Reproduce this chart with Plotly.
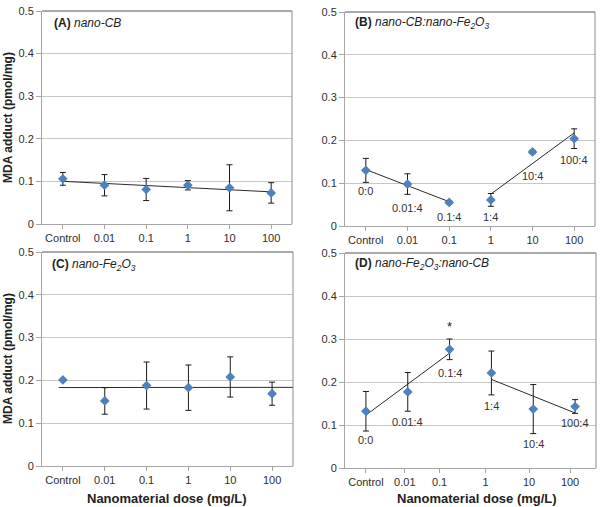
import numpy as np
import plotly.graph_objects as go

# ---------------- data ----------------
DOSES = ["Control", "0.01", "0.1", "1", "10", "100"]
RATIOS = ["0:0", "0.01:4", "0.1:4", "1:4", "10:4", "100:4"]

A_MEAN = [0.106, 0.091, 0.081, 0.091, 0.085, 0.073]
A_ERR = [0.015, 0.025, 0.026, 0.011, 0.054, 0.024]

B_MEAN = [0.130, 0.098, 0.055, 0.061, 0.173, 0.204]
B_ERR = [0.028, 0.024, 0.004, 0.015, 0.004, 0.023]

C_MEAN = [0.201, 0.152, 0.188, 0.183, 0.208, 0.169]
C_ERR = [0.002, 0.031, 0.055, 0.053, 0.047, 0.027]

D_MEAN = [0.132, 0.177, 0.276, 0.221, 0.137, 0.143]
D_ERR = [0.046, 0.045, 0.024, 0.051, 0.057, 0.016]
D_SIG = ["", "", "*", "", "", ""]

Y_TICKS = [0, 0.1, 0.2, 0.3, 0.4, 0.5]

# ---------------- layout helpers ----------------
W, H = 600, 507
FONT = "Liberation Sans, Arial, sans-serif"
BLUE = "#4f81bd"
GRID = "#c6c6c6"
AXIS = "#a6a6a6"
FRAME = "#555555"


def fx(p):
    return p / W


def fy(p):
    return 1 - p / H


# panel pixel boxes: (left, right, top, bottom)
BOXES = {
    1: (42, 292, 11, 224),
    2: (345, 595, 12, 226),
    3: (42, 293, 252, 466),
    4: (345, 596, 253, 468),
}

fig = go.Figure()
xs = list(range(len(DOSES)))


def add_panel(k, means, errs):
    sfx = "" if k == 1 else str(k)
    fig.add_trace(go.Scatter(
        x=xs, y=means, mode="markers",
        marker=dict(symbol="diamond", size=7.5, color=BLUE),
        error_y=dict(type="data", array=errs, visible=True,
                     color="#1a1a1a", thickness=1, width=3),
        xaxis="x" + sfx, yaxis="y" + sfx, showlegend=False,
        hoverinfo="x+y"))


def add_trend(k, means, idx, x0=None, x1=None):
    sfx = "" if k == 1 else str(k)
    xx = np.array(idx, dtype=float)
    yy = np.array([means[i] for i in idx])
    m, b = np.polyfit(xx, yy, 1)
    lo = xx.min() if x0 is None else x0
    hi = xx.max() if x1 is None else x1
    fig.add_trace(go.Scatter(
        x=[lo, hi], y=[m * lo + b, m * hi + b], mode="lines",
        line=dict(color="#2b2b2b", width=1),
        xaxis="x" + sfx, yaxis="y" + sfx, showlegend=False,
        hoverinfo="skip"))


add_trend(1, A_MEAN, [0, 1, 2, 3, 4, 5])
add_trend(2, B_MEAN, [0, 1, 2])
add_trend(2, B_MEAN, [3, 4, 5])
add_trend(3, C_MEAN, [0, 1, 2, 3, 4, 5], x0=-0.1, x1=5.5)
add_trend(4, D_MEAN, [0, 1, 2])
add_trend(4, D_MEAN, [3, 4, 5])

add_panel(1, A_MEAN, A_ERR)
add_panel(2, B_MEAN, B_ERR)
add_panel(3, C_MEAN, C_ERR)
add_panel(4, D_MEAN, D_ERR)

D_TICK_SHIFT = [0, -0.07, -0.24, -0.14, -0.1, -0.12]

layout = dict(
    template="none",
    width=W, height=H, autosize=False,
    margin=dict(l=0, r=0, t=0, b=0, pad=0, autoexpand=False),
    paper_bgcolor="white", plot_bgcolor="white",
    font=dict(family=FONT, size=11, color="#333333"),
    showlegend=False,
)

shapes = []
for k, (l, r, t, b) in BOXES.items():
    sfx = "" if k == 1 else str(k)
    tv = xs if k != 4 else [x + s for x, s in zip(xs, D_TICK_SHIFT)]
    layout["xaxis" + sfx] = dict(
        domain=[fx(l), fx(r)], anchor="y" + sfx, automargin=False,
        range=[-0.5, 5.5], tickmode="array", tickvals=tv, ticktext=DOSES,
        showgrid=False, zeroline=False, showline=True, linecolor=AXIS,
        linewidth=1, ticks="outside", ticklen=4, tickcolor=AXIS,
        tickfont=dict(size=11, color="#2e2e2e"), fixedrange=True)
    layout["yaxis" + sfx] = dict(
        domain=[fy(b), fy(t)], anchor="x" + sfx, automargin=False,
        range=[0, 0.5], tickmode="array", tickvals=Y_TICKS,
        ticktext=[("%g" % v) for v in Y_TICKS],
        showgrid=True, gridcolor=GRID, gridwidth=1, zeroline=False,
        showline=True, linecolor=AXIS, linewidth=1,
        ticks="outside", ticklen=5, tickcolor=AXIS,
        tickfont=dict(size=11, color="#2e2e2e"), fixedrange=True)
    # top and right frame of plot area
    shapes.append(dict(type="line", xref="paper", yref="paper",
                       x0=fx(l), x1=fx(r), y0=fy(t), y1=fy(t),
                       line=dict(color=FRAME, width=1)))
    shapes.append(dict(type="line", xref="paper", yref="paper",
                       x0=fx(r), x1=fx(r), y0=fy(t), y1=fy(b),
                       line=dict(color="#8c8c8c", width=1)))

annotations = []
titles = [
    (1, 52, 23, "<b>(A)</b> <i>nano-CB</i>"),
    (2, 353, 23, "<b>(B)</b> <i>nano-CB:nano-Fe<sub>2</sub>O<sub>3</sub></i>"),
    (3, 50, 265, "<b>(C)</b> <i>nano-Fe<sub>2</sub>O<sub>3</sub></i>"),
    (4, 353, 264, "<b>(D)</b> <i>nano-Fe<sub>2</sub>O<sub>3</sub>:nano-CB</i>"),
]
for k, px, py, txt in titles:
    annotations.append(dict(xref="paper", yref="paper", x=fx(px), y=fy(py),
                            xanchor="left", yanchor="middle", text=txt,
                            showarrow=False,
                            font=dict(size=12, color="#222222", family=FONT)))

# ratio labels below points
B_SHIFT = [-21, -24, -15, -17, -24, -21]
D_SHIFT = [-29, -30, -24, -33, -35, -16]
for k, means, shifts in ((2, B_MEAN, B_SHIFT), (4, D_MEAN, D_SHIFT)):
    sfx = "" if k == 1 else str(k)
    for i, (lab, v, s) in enumerate(zip(RATIOS, means, shifts)):
        annotations.append(dict(xref="x" + sfx, yref="y" + sfx, x=i, y=v,
                                yshift=s, text=lab, showarrow=False,
                                xanchor="center", yanchor="middle",
                                font=dict(size=11, color="#333333", family=FONT)))

for i, (sig, v, e) in enumerate(zip(D_SIG, D_MEAN, D_ERR)):
    if sig:
        annotations.append(dict(xref="x4", yref="y4", x=i, y=v + e,
                                yshift=13, text=sig, showarrow=False,
                                xanchor="center", yanchor="middle",
                                font=dict(size=13, color="#222222", family=FONT)))

# axis titles
for cy in (118, 359):
    annotations.append(dict(xref="paper", yref="paper", x=fx(8), y=fy(cy),
                            text="<b>MDA adduct (pmol/mg)</b>", textangle=-90,
                            showarrow=False, xanchor="center", yanchor="middle",
                            font=dict(size=12, color="#222222", family=FONT)))
for cx in (167, 477):
    annotations.append(dict(xref="paper", yref="paper", x=fx(cx), y=fy(498),
                            text="<b>Nanomaterial dose (mg/L)</b>",
                            showarrow=False, xanchor="center", yanchor="middle",
                            font=dict(size=13, color="#222222", family=FONT)))

layout["shapes"] = shapes
layout["annotations"] = annotations
fig.update_layout(**layout)

fig.write_html(
    "out.html",
    config={"displayModeBar": False, "responsive": False},
    post_script="document.body.style.margin='0';document.body.style.padding='0';",
)
